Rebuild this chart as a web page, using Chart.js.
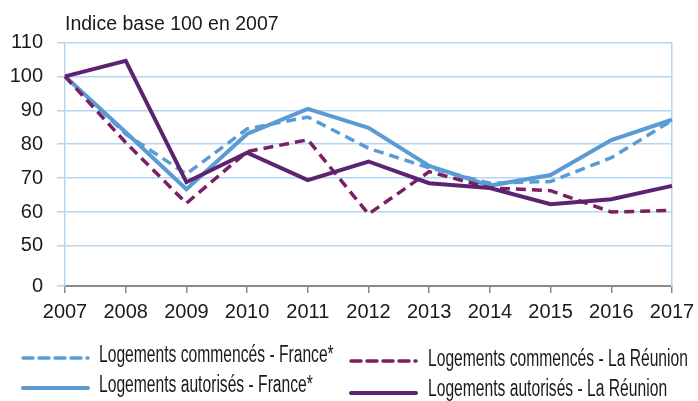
<!DOCTYPE html>
<html>
<head>
<meta charset="utf-8">
<script src="https://cdn.jsdelivr.net/npm/chart.js@4"></script>
<style>
html,body{margin:0;padding:0;background:#fff;}
#wrap{width:698px;height:401px;position:relative;}
</style>
</head>
<body>
<div id="wrap"><canvas id="c" width="698" height="401"></canvas></div>
<script>
const years = ['2007','2008','2009','2010','2011','2012','2013','2014','2015','2016','2017'];
const commencesFrance = [100, 83, 71.2, 84.5, 88, 78.8, 73, 68.5, 69, 76, 87];
const autorisesFrance = [100, 83.5, 66.7, 83, 90.4, 84.8, 73.6, 67.8, 70.9, 81.2, 87.2];
const commencesReunion = [100, 80.5, 62.6, 77.8, 81.3, 59.4, 71.9, 67.1, 66.3, 60, 60.5];
const autorisesReunion = [100, 104.6, 68.8, 77.5, 69.4, 74.9, 68.5, 67.1, 62.3, 63.8, 67.7];
const yTickValues = [50, 60, 70, 80, 90, 100, 110];
const zeroLabel = '0';
const AXIS_BREAK_MIN = 38.2; // broken axis: bottom of plot is labelled 0
const titleText = 'Indice base 100 en 2007';
const labels = [
  'Logements commencés - France*',
  'Logements autorisés - France*',
  'Logements commencés - La Réunion',
  'Logements autorisés - La Réunion'
];

const BLUE = '#5B9BD5';
const MAGENTA = '#7A1F62';
const PURPLE = '#5C2370';
const GRID = '#B3D5F1';
const FONT = '"Liberation Sans", Arial, sans-serif';

const legendPos = [
  {x1: 23, x2: 88, ly: 358, tx: 99, ty: 356},
  {x1: 23, x2: 88, ly: 388, tx: 99, ty: 386},
  {x1: 351, x2: 416, ly: 361, tx: 428, ty: 360},
  {x1: 351, x2: 416, ly: 393, tx: 428, ty: 390}
];

const customLegend = {
  id: 'customLegend',
  afterDraw(chart) {
    const ctx = chart.ctx;
    chart.data.datasets.forEach((ds, i) => {
      const p = legendPos[i];
      ctx.save();
      ctx.strokeStyle = ds.borderColor;
      ctx.lineWidth = ds.borderWidth;
      ctx.setLineDash(ds.borderDash || []);
      ctx.lineCap = 'round';
      ctx.beginPath();
      ctx.moveTo(p.x1, p.ly);
      ctx.lineTo(p.x2, p.ly);
      ctx.stroke();
      ctx.restore();
      ctx.save();
      ctx.fillStyle = '#1a1a1a';
      ctx.font = '23px ' + FONT;
      ctx.textBaseline = 'middle';
      ctx.textAlign = 'left';
      ctx.translate(p.tx, p.ty);
      ctx.scale(0.68, 1);
      ctx.fillText(ds.label, 0, 0);
      ctx.restore();
    });
  }
};

new Chart(document.getElementById('c'), {
  type: 'line',
  data: {
    labels: years,
    datasets: [
      {label: labels[0], data: commencesFrance, borderColor: BLUE, borderWidth: 3.5, borderDash: [10, 6], order: 2},
      {label: labels[1], data: autorisesFrance, borderColor: BLUE, borderWidth: 4, order: 3},
      {label: labels[2], data: commencesReunion, borderColor: MAGENTA, borderWidth: 3.5, borderDash: [10, 6], order: 1},
      {label: labels[3], data: autorisesReunion, borderColor: PURPLE, borderWidth: 4, order: 0}
    ]
  },
  options: {
    responsive: false,
    animation: false,
    devicePixelRatio: 1,
    elements: {point: {radius: 0}, line: {tension: 0, fill: false}},
    layout: {padding: 0},
    plugins: {
      legend: {display: false},
      tooltip: {enabled: false},
      title: {
        display: true,
        text: titleText,
        align: 'start',
        fullSize: false,
        color: '#1a1a1a',
        font: {family: FONT, size: 19.5, weight: 'normal'},
        padding: {top: 13, bottom: 6}
      }
    },
    scales: {
      x: {
        type: 'category',
        offset: false,
        afterFit(scale) { scale.height = 115; scale.paddingLeft = 0; scale.paddingRight = 0; },
        grid: {drawOnChartArea: false, drawTicks: true, tickLength: 7, color: '#8a8a8a', lineWidth: 1.5},
        border: {display: true, color: '#8a8a8a', width: 2},
        ticks: {color: '#1a1a1a', font: {family: FONT, size: 20}, padding: 7, maxRotation: 0, autoSkip: false}
      },
      y: {
        type: 'linear',
        min: AXIS_BREAK_MIN,
        max: 110,
        afterFit(scale) { scale.width = 65; scale.paddingTop = 0; scale.paddingBottom = 0; },
        afterBuildTicks(scale) {
          scale.ticks = [AXIS_BREAK_MIN].concat(yTickValues).map(v => ({value: v}));
        },
        grid: {color: GRID, lineWidth: 1.5, tickLength: 8},
        border: {display: true, color: GRID, width: 1.5},
        ticks: {
          color: '#1a1a1a',
          font: {family: FONT, size: 20},
          padding: 14,
          callback: (v) => (v < 50 ? zeroLabel : String(v))
        }
      },
      y2: {
        type: 'linear',
        position: 'right',
        min: AXIS_BREAK_MIN,
        max: 110,
        afterFit(scale) { scale.width = 26; scale.paddingTop = 0; scale.paddingBottom = 0; },
        grid: {display: false},
        border: {display: true, color: GRID, width: 1.5},
        ticks: {display: false}
      }
    }
  },
  plugins: [customLegend]
});
</script>
</body>
</html>
